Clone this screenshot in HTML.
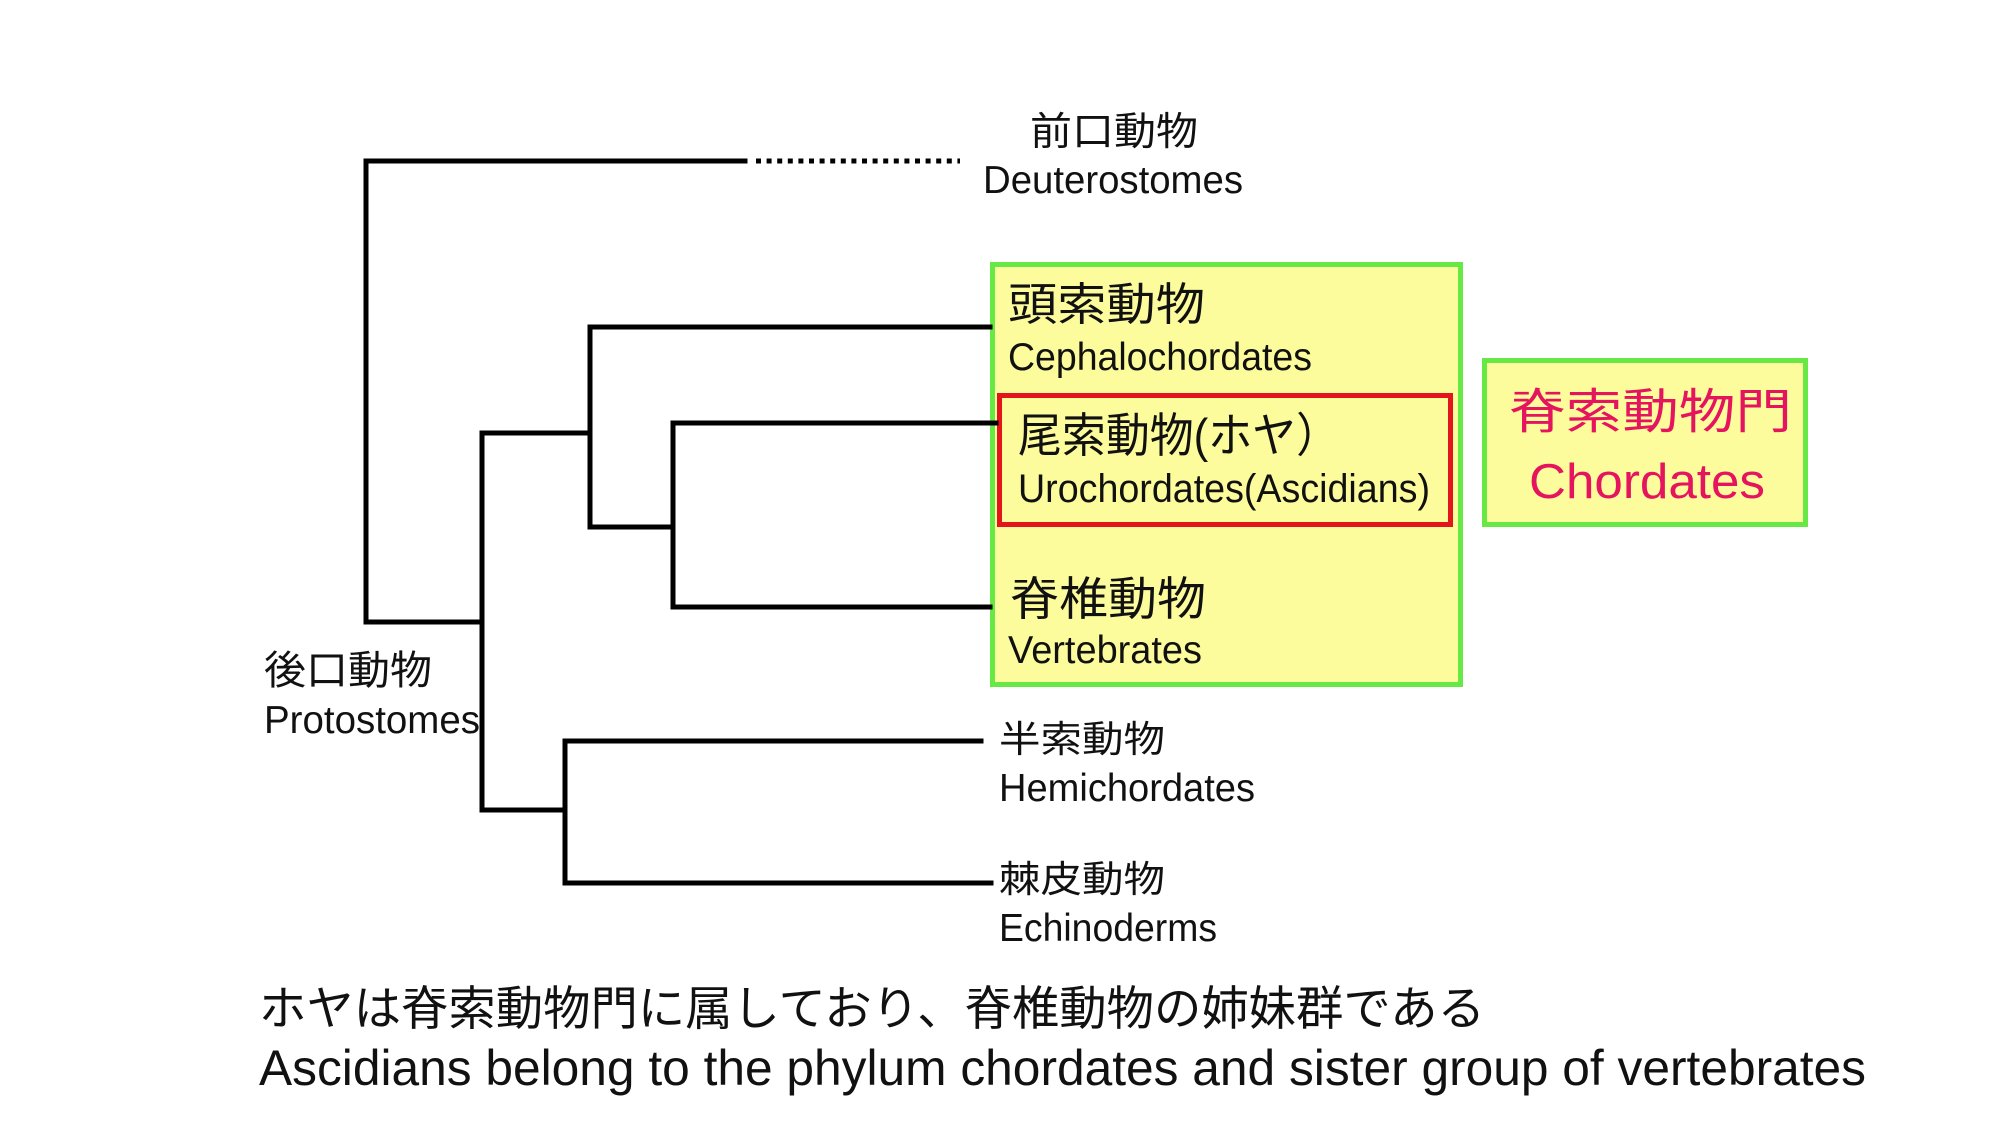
<!DOCTYPE html>
<html>
<head>
<meta charset="utf-8">
<style>
  html, body { margin: 0; padding: 0; background: #ffffff; }
  body { width: 2000px; height: 1125px; overflow: hidden; }
  svg { display: block; }
  text { font-family: "Liberation Sans", "Noto Sans CJK JP", sans-serif; fill: #111; }
</style>
</head>
<body>
<svg xmlns="http://www.w3.org/2000/svg" width="2000" height="1125" viewBox="0 0 2000 1125">
  <rect x="0" y="0" width="2000" height="1125" fill="#ffffff"/>

  <!-- Chordate box -->
  <rect x="992.5" y="264.5" width="468" height="420" fill="#fdfc9c" stroke="#66e845" stroke-width="5"/>
  <!-- Urochordate red box -->
  <rect x="999.5" y="395.5" width="451" height="129" fill="none" stroke="#e3141b" stroke-width="5"/>
  <!-- Right Chordates box -->
  <rect x="1484.5" y="360.5" width="321" height="164" fill="#fdfc9c" stroke="#66e845" stroke-width="5"/>

  <!-- Tree -->
  <g stroke="#000" stroke-width="5" stroke-linecap="square" fill="none">
    <path d="M366 161 H745
             M366 161 V622 H482
             M482 433 V810
             M482 433 H590
             M590 327 V527
             M590 327 H990
             M590 527 H673
             M673 423 V607
             M673 423 H996
             M673 607 H990
             M482 810 H565
             M565 741 V883
             M565 741 H981
             M565 883 H991"/>
  </g>
  <line x1="756" y1="161" x2="960" y2="161" stroke="#000" stroke-width="5" stroke-dasharray="5 5.6"/>

  <!-- Labels -->
  <text x="1030" y="145" font-size="39" textLength="168" lengthAdjust="spacingAndGlyphs">前口動物</text>
  <text x="983" y="193" font-size="39" textLength="260" lengthAdjust="spacingAndGlyphs">Deuterostomes</text>

  <text x="1008" y="320" font-size="45" textLength="197" lengthAdjust="spacingAndGlyphs">頭索動物</text>
  <text x="1008" y="370" font-size="39" textLength="304" lengthAdjust="spacingAndGlyphs">Cephalochordates</text>

  <text x="1018" y="452" font-size="47" textLength="322" lengthAdjust="spacingAndGlyphs">尾索動物(ホヤ）</text>
  <text x="1018" y="502" font-size="40" textLength="412" lengthAdjust="spacingAndGlyphs">Urochordates(Ascidians)</text>

  <text x="1010" y="615" font-size="46" textLength="196" lengthAdjust="spacingAndGlyphs">脊椎動物</text>
  <text x="1008" y="663" font-size="39" textLength="194" lengthAdjust="spacingAndGlyphs">Vertebrates</text>

  <text x="999" y="752" font-size="37" textLength="166" lengthAdjust="spacingAndGlyphs">半索動物</text>
  <text x="999" y="801" font-size="39" textLength="256" lengthAdjust="spacingAndGlyphs">Hemichordates</text>

  <text x="999" y="892" font-size="37" textLength="166" lengthAdjust="spacingAndGlyphs">棘皮動物</text>
  <text x="999" y="941" font-size="39" textLength="218" lengthAdjust="spacingAndGlyphs">Echinoderms</text>

  <text x="264" y="684" font-size="40" textLength="168" lengthAdjust="spacingAndGlyphs">後口動物</text>
  <text x="264" y="733" font-size="39" textLength="216" lengthAdjust="spacingAndGlyphs">Protostomes</text>

  <text x="1509" y="428" font-size="48" textLength="283" lengthAdjust="spacingAndGlyphs" style="fill:#e5145e">脊索動物門</text>
  <text x="1529" y="498" font-size="49" textLength="236" lengthAdjust="spacingAndGlyphs" style="fill:#e5145e">Chordates</text>

  <!-- Bottom caption -->
  <text x="259" y="1025" font-size="47" textLength="1226" lengthAdjust="spacingAndGlyphs">ホヤは脊索動物門に属しており、脊椎動物の姉妹群である</text>
  <text x="259" y="1085" font-size="50" textLength="1607" lengthAdjust="spacingAndGlyphs">Ascidians belong to the phylum chordates and sister group of vertebrates</text>
</svg>
</body>
</html>
